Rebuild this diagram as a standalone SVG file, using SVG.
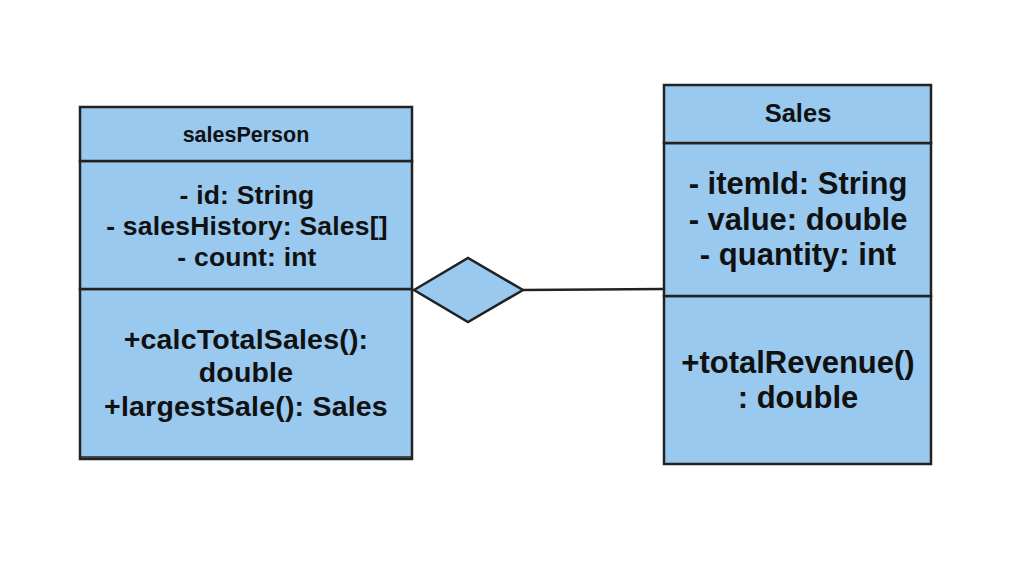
<svg xmlns="http://www.w3.org/2000/svg" width="1030" height="561" viewBox="0 0 1030 561">
<style>
.box{fill:#99c9ef;stroke:#222;stroke-width:2.5}
.t{font-family:"Liberation Sans",Arial,sans-serif;font-weight:bold;fill:#111;text-anchor:middle}
.edge{fill:none;stroke:#222;stroke-width:2.5}
</style>
<rect width="1030" height="561" fill="#fff"/>
<g id="salesPerson">
<rect class="box" x="80" y="289" width="332" height="170"/>
<line x1="80" y1="457" x2="412" y2="457" stroke="#222" stroke-width="1.5"/>
<rect class="box" x="80" y="161" width="332" height="128"/>
<rect class="box" x="80" y="107" width="332" height="54"/>
<text class="t" x="246" y="142" font-size="21.5">salesPerson</text>
<text class="t" x="247" y="204" font-size="26.5" letter-spacing="0.2">- id: String</text>
<text class="t" x="247" y="235" font-size="26.5" letter-spacing="0.2">- salesHistory: Sales[]</text>
<text class="t" x="247" y="266" font-size="26.5" letter-spacing="0.2">- count: int</text>
<text class="t" x="246" y="349" font-size="28.5" letter-spacing="0.2">+calcTotalSales():</text>
<text class="t" x="246" y="382" font-size="28.5" letter-spacing="0.2">double</text>
<text class="t" x="246" y="416" font-size="28.5" letter-spacing="0.2">+largestSale(): Sales</text>
</g>
<g id="Sales">
<rect class="box" x="664" y="296" width="267" height="168"/>
<rect class="box" x="664" y="143" width="267" height="153"/>
<rect class="box" x="664" y="85" width="267" height="58"/>
<text class="t" x="798" y="122" font-size="25.5">Sales</text>
<text class="t" x="798" y="194" font-size="31">- itemId: String</text>
<text class="t" x="798" y="230" font-size="31">- value: double</text>
<text class="t" x="798" y="265" font-size="31">- quantity: int</text>
<text class="t" x="798" y="373" font-size="31">+totalRevenue()</text>
<text class="t" x="798" y="408" font-size="31">: double</text>
</g>
<g id="connectors">
<line class="edge" x1="523" y1="290" x2="664" y2="289"/>
<polygon class="box" points="414,290 468,258 523,290 468,322"/>
</g>
</svg>
